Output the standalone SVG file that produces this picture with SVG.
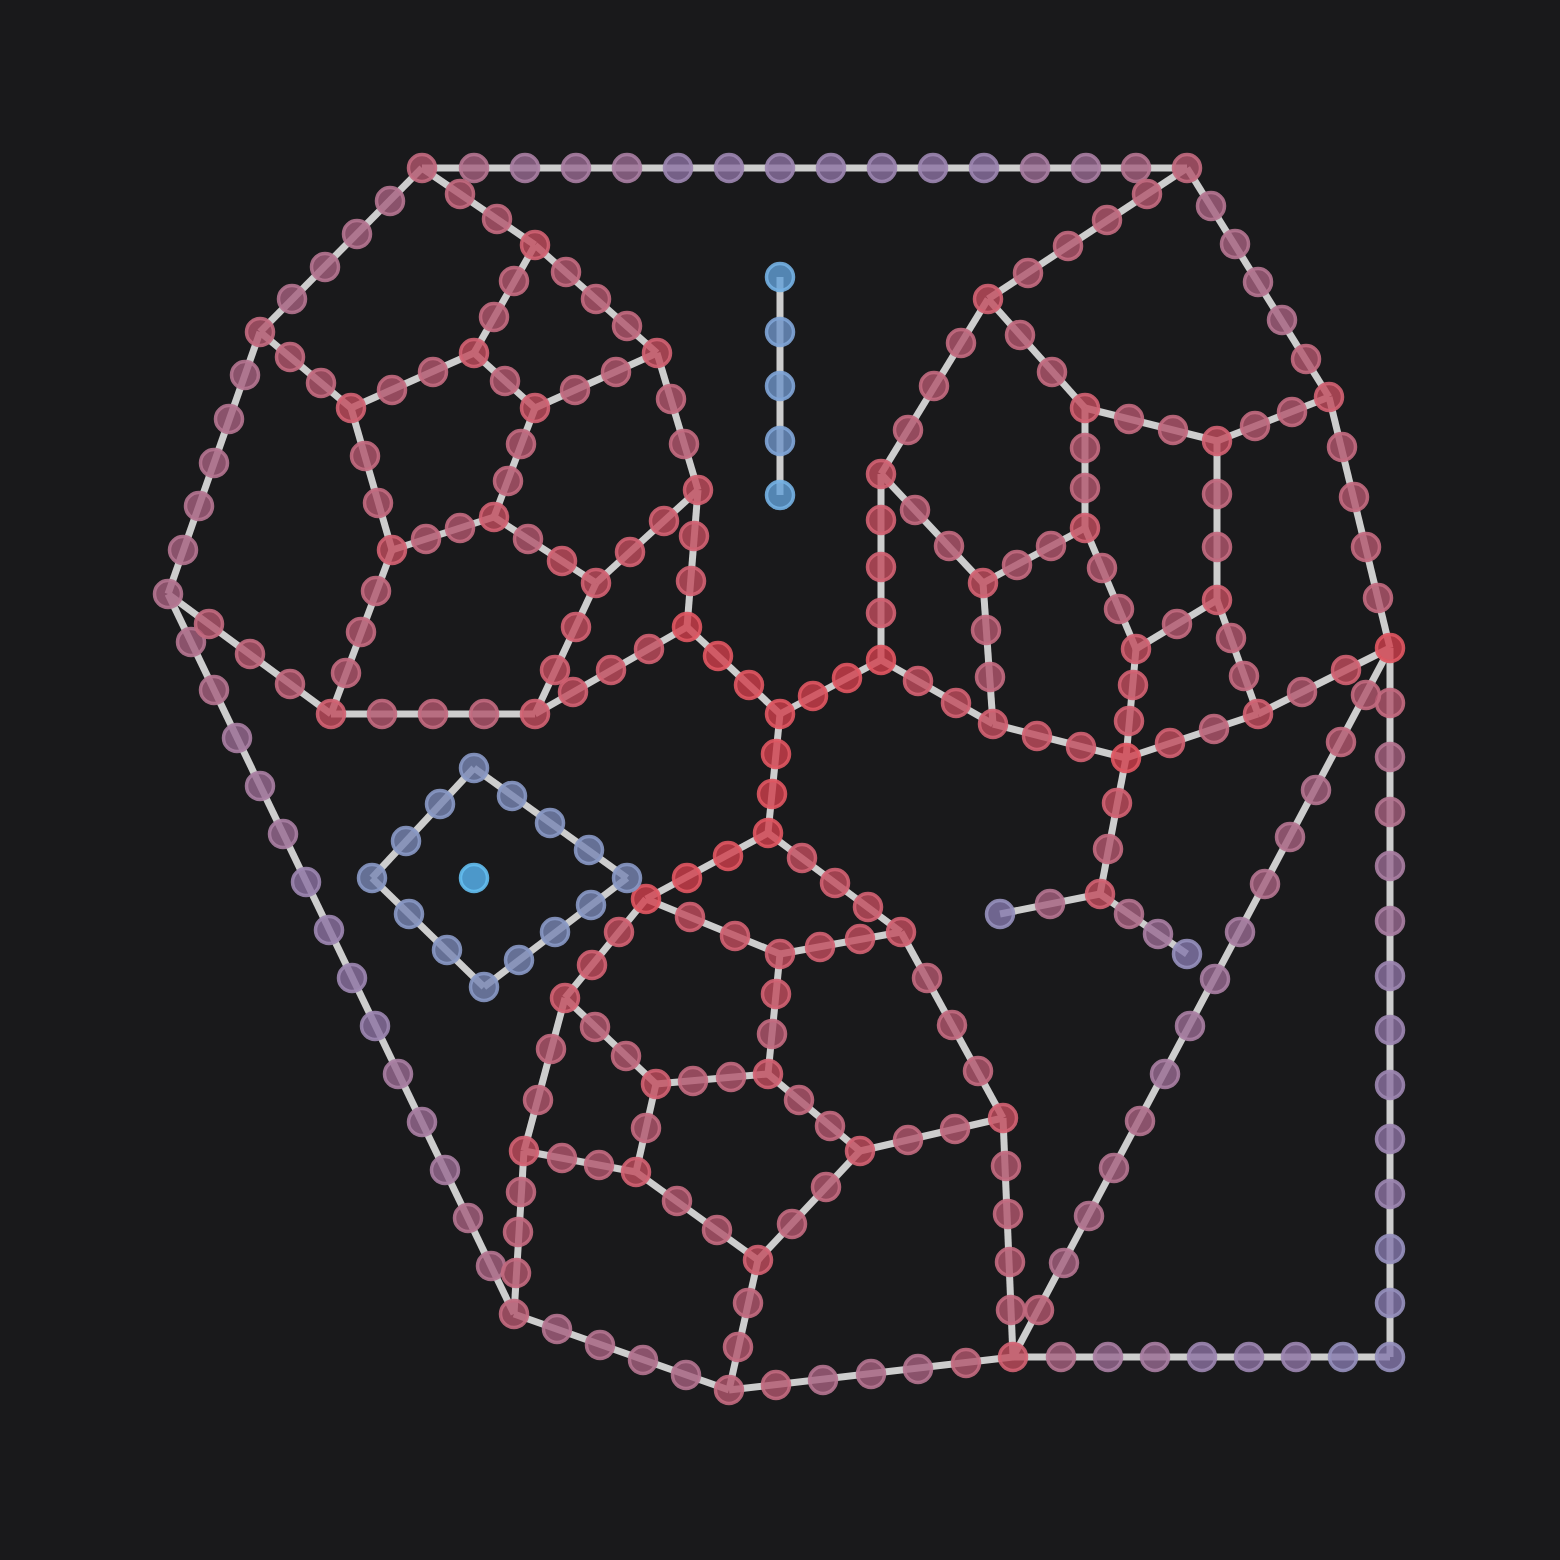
<svg xmlns="http://www.w3.org/2000/svg" width="1560" height="1560" viewBox="0 0 1560 1560">
<style>
.e line{stroke:#cdcdcd;stroke-width:7;stroke-linecap:butt}
.n circle{r:13.5;stroke-width:3.5;fill-opacity:.8;stroke-opacity:.9}
.c0 circle{fill:#d13f4c;stroke:#de5762}
.c1 circle{fill:#c24c5e;stroke:#d06272}
.c2 circle{fill:#b3566e;stroke:#c26a80}
.c3 circle{fill:#a66080;stroke:#b47490}
.c4 circle{fill:#986a92;stroke:#a87ea2}
.c5 circle{fill:#8c72a2;stroke:#9c86b0}
.c6 circle{fill:#8478ac;stroke:#9690bc}
.b1 circle{fill:#7886b4;stroke:#8898c4}
.b2 circle{fill:#6e94c8;stroke:#80a4d6}
.b3 circle{fill:#62a0d8;stroke:#74b0e2}
.b4 circle{fill:#52a6de;stroke:#64beef;fill-opacity:.9}
</style>
<rect width="1560" height="1560" fill="#19191b"/>
<g id="connectors" class="e">
<line x1="422" y1="168" x2="1187" y2="168"/>
<line x1="422" y1="168" x2="260" y2="332"/>
<line x1="260" y1="332" x2="168" y2="594"/>
<line x1="168" y1="594" x2="514" y2="1314"/>
<line x1="514" y1="1314" x2="729" y2="1390"/>
<line x1="729" y1="1390" x2="1013" y2="1357"/>
<line x1="1013" y1="1357" x2="1390" y2="1357"/>
<line x1="1390" y1="1357" x2="1390" y2="648"/>
<line x1="1390" y1="648" x2="1013" y2="1357"/>
<line x1="1187" y1="168" x2="1329" y2="397"/>
<line x1="1329" y1="397" x2="1390" y2="648"/>
<line x1="168" y1="594" x2="331" y2="714"/>
<line x1="422" y1="168" x2="535" y2="245"/>
<line x1="1187" y1="168" x2="988" y2="299"/>
<line x1="260" y1="332" x2="351" y2="408"/>
<line x1="1390" y1="648" x2="1258" y2="714"/>
<line x1="1258" y1="714" x2="1126" y2="758"/>
<line x1="1258" y1="714" x2="1217" y2="600"/>
<line x1="1217" y1="600" x2="1217" y2="441"/>
<line x1="1217" y1="441" x2="1329" y2="397"/>
<line x1="1217" y1="441" x2="1085" y2="408"/>
<line x1="1085" y1="408" x2="988" y2="299"/>
<line x1="988" y1="299" x2="881" y2="474"/>
<line x1="881" y1="474" x2="881" y2="660"/>
<line x1="881" y1="474" x2="983" y2="583"/>
<line x1="983" y1="583" x2="1085" y2="528"/>
<line x1="1085" y1="528" x2="1085" y2="408"/>
<line x1="1085" y1="528" x2="1136" y2="649"/>
<line x1="1136" y1="649" x2="1217" y2="600"/>
<line x1="1136" y1="649" x2="1126" y2="758"/>
<line x1="983" y1="583" x2="993" y2="724"/>
<line x1="993" y1="724" x2="881" y2="660"/>
<line x1="993" y1="724" x2="1126" y2="758"/>
<line x1="1126" y1="758" x2="1100" y2="894"/>
<line x1="1100" y1="894" x2="1000" y2="914"/>
<line x1="1100" y1="894" x2="1187" y2="954"/>
<line x1="881" y1="660" x2="780" y2="714"/>
<line x1="780" y1="714" x2="687" y2="627"/>
<line x1="780" y1="714" x2="768" y2="833"/>
<line x1="687" y1="627" x2="698" y2="490"/>
<line x1="687" y1="627" x2="535" y2="714"/>
<line x1="698" y1="490" x2="657" y2="353"/>
<line x1="698" y1="490" x2="596" y2="583"/>
<line x1="657" y1="353" x2="535" y2="245"/>
<line x1="657" y1="353" x2="535" y2="408"/>
<line x1="535" y1="245" x2="474" y2="353"/>
<line x1="474" y1="353" x2="351" y2="408"/>
<line x1="474" y1="353" x2="535" y2="408"/>
<line x1="535" y1="408" x2="494" y2="517"/>
<line x1="494" y1="517" x2="392" y2="550"/>
<line x1="494" y1="517" x2="596" y2="583"/>
<line x1="596" y1="583" x2="535" y2="714"/>
<line x1="535" y1="714" x2="331" y2="714"/>
<line x1="331" y1="714" x2="392" y2="550"/>
<line x1="392" y1="550" x2="351" y2="408"/>
<line x1="768" y1="833" x2="646" y2="899"/>
<line x1="768" y1="833" x2="901" y2="932"/>
<line x1="646" y1="899" x2="780" y2="954"/>
<line x1="780" y1="954" x2="901" y2="932"/>
<line x1="646" y1="899" x2="565" y2="998"/>
<line x1="901" y1="932" x2="1003" y2="1118"/>
<line x1="780" y1="954" x2="768" y2="1074"/>
<line x1="565" y1="998" x2="656" y2="1084"/>
<line x1="768" y1="1074" x2="656" y2="1084"/>
<line x1="768" y1="1074" x2="860" y2="1151"/>
<line x1="860" y1="1151" x2="1003" y2="1118"/>
<line x1="1003" y1="1118" x2="1013" y2="1357"/>
<line x1="565" y1="998" x2="524" y2="1151"/>
<line x1="524" y1="1151" x2="636" y2="1172"/>
<line x1="656" y1="1084" x2="636" y2="1172"/>
<line x1="636" y1="1172" x2="758" y2="1260"/>
<line x1="860" y1="1151" x2="758" y2="1260"/>
<line x1="758" y1="1260" x2="729" y2="1390"/>
<line x1="524" y1="1151" x2="514" y2="1314"/>
<line x1="474" y1="768" x2="627" y2="878"/>
<line x1="474" y1="768" x2="372" y2="878"/>
<line x1="372" y1="878" x2="484" y2="987"/>
<line x1="484" y1="987" x2="627" y2="878"/>
<line x1="780" y1="277" x2="780" y2="495"/>
</g>
<g id="nodes">
<g id="j1" class="n c2"><circle cx="422" cy="168"/></g>
<g id="j2" class="n c2"><circle cx="1187" cy="168"/></g>
<g id="j3" class="n c2"><circle cx="260" cy="332"/></g>
<g id="j4" class="n c3"><circle cx="168" cy="594"/></g>
<g id="j5" class="n c2"><circle cx="514" cy="1314"/></g>
<g id="j6" class="n c2"><circle cx="729" cy="1390"/></g>
<g id="j7" class="n c1"><circle cx="1013" cy="1357"/></g>
<g id="j8" class="n c6"><circle cx="1390" cy="1357"/></g>
<g id="j9" class="n c0"><circle cx="1390" cy="648"/></g>
<g id="j10" class="n c1"><circle cx="1329" cy="397"/></g>
<g id="j11" class="n c1"><circle cx="988" cy="299"/></g>
<g id="j12" class="n c1"><circle cx="1085" cy="408"/></g>
<g id="j13" class="n c1"><circle cx="1217" cy="441"/></g>
<g id="j14" class="n c1"><circle cx="1217" cy="600"/></g>
<g id="j15" class="n c1"><circle cx="1258" cy="714"/></g>
<g id="j16" class="n c0"><circle cx="1126" cy="758"/></g>
<g id="j17" class="n c1"><circle cx="1136" cy="649"/></g>
<g id="j18" class="n c1"><circle cx="1085" cy="528"/></g>
<g id="j19" class="n c1"><circle cx="983" cy="583"/></g>
<g id="j20" class="n c1"><circle cx="881" cy="474"/></g>
<g id="j21" class="n c0"><circle cx="881" cy="660"/></g>
<g id="j22" class="n c1"><circle cx="993" cy="724"/></g>
<g id="j23" class="n c1"><circle cx="1100" cy="894"/></g>
<g id="j24" class="n c6"><circle cx="1000" cy="914"/></g>
<g id="j25" class="n c6"><circle cx="1187" cy="954"/></g>
<g id="j26" class="n c0"><circle cx="780" cy="714"/></g>
<g id="j27" class="n c0"><circle cx="687" cy="627"/></g>
<g id="j28" class="n c1"><circle cx="698" cy="490"/></g>
<g id="j29" class="n c1"><circle cx="657" cy="353"/></g>
<g id="j30" class="n c1"><circle cx="535" cy="245"/></g>
<g id="j31" class="n c1"><circle cx="474" cy="353"/></g>
<g id="j32" class="n c1"><circle cx="535" cy="408"/></g>
<g id="j33" class="n c1"><circle cx="351" cy="408"/></g>
<g id="j34" class="n c1"><circle cx="494" cy="517"/></g>
<g id="j35" class="n c1"><circle cx="392" cy="550"/></g>
<g id="j36" class="n c1"><circle cx="596" cy="583"/></g>
<g id="j37" class="n c1"><circle cx="535" cy="714"/></g>
<g id="j38" class="n c1"><circle cx="331" cy="714"/></g>
<g id="j39" class="n c0"><circle cx="768" cy="833"/></g>
<g id="j40" class="n c0"><circle cx="646" cy="899"/></g>
<g id="j41" class="n c1"><circle cx="901" cy="932"/></g>
<g id="j42" class="n c1"><circle cx="780" cy="954"/></g>
<g id="j43" class="n c1"><circle cx="565" cy="998"/></g>
<g id="j44" class="n c1"><circle cx="1003" cy="1118"/></g>
<g id="j45" class="n c1"><circle cx="768" cy="1074"/></g>
<g id="j46" class="n c1"><circle cx="656" cy="1084"/></g>
<g id="j47" class="n c1"><circle cx="860" cy="1151"/></g>
<g id="j48" class="n c1"><circle cx="524" cy="1151"/></g>
<g id="j49" class="n c1"><circle cx="636" cy="1172"/></g>
<g id="j50" class="n c1"><circle cx="758" cy="1260"/></g>
<g id="t1" class="n c3"><circle cx="474" cy="168"/></g>
<g id="t2" class="n c4"><circle cx="525" cy="168"/></g>
<g id="t3" class="n c4"><circle cx="576" cy="168"/></g>
<g id="t4" class="n c4"><circle cx="627" cy="168"/></g>
<g id="t5" class="n c5"><circle cx="678" cy="168"/></g>
<g id="t6" class="n c5"><circle cx="729" cy="168"/></g>
<g id="t7" class="n c5"><circle cx="780" cy="168"/></g>
<g id="t8" class="n c5"><circle cx="831" cy="168"/></g>
<g id="t9" class="n c5"><circle cx="882" cy="168"/></g>
<g id="t10" class="n c5"><circle cx="933" cy="168"/></g>
<g id="t11" class="n c5"><circle cx="984" cy="168"/></g>
<g id="t12" class="n c4"><circle cx="1035" cy="168"/></g>
<g id="t13" class="n c4"><circle cx="1086" cy="168"/></g>
<g id="t14" class="n c3"><circle cx="1136" cy="168"/></g>
<g id="ul1" class="n c3"><circle cx="390" cy="201"/></g>
<g id="ul2" class="n c3"><circle cx="357" cy="234"/></g>
<g id="ul3" class="n c3"><circle cx="325" cy="267"/></g>
<g id="ul4" class="n c3"><circle cx="292" cy="299"/></g>
<g id="l1" class="n c3"><circle cx="245" cy="375"/></g>
<g id="l2" class="n c3"><circle cx="229" cy="419"/></g>
<g id="l3" class="n c3"><circle cx="214" cy="463"/></g>
<g id="l4" class="n c3"><circle cx="199" cy="506"/></g>
<g id="l5" class="n c3"><circle cx="183" cy="550"/></g>
<g id="ll1" class="n c3"><circle cx="191" cy="642"/></g>
<g id="ll2" class="n c3"><circle cx="214" cy="690"/></g>
<g id="ll3" class="n c4"><circle cx="237" cy="738"/></g>
<g id="ll4" class="n c4"><circle cx="260" cy="786"/></g>
<g id="ll5" class="n c4"><circle cx="283" cy="834"/></g>
<g id="ll6" class="n c5"><circle cx="306" cy="882"/></g>
<g id="ll7" class="n c5"><circle cx="329" cy="930"/></g>
<g id="ll8" class="n c5"><circle cx="352" cy="978"/></g>
<g id="ll9" class="n c5"><circle cx="375" cy="1026"/></g>
<g id="ll10" class="n c4"><circle cx="398" cy="1074"/></g>
<g id="ll11" class="n c4"><circle cx="422" cy="1122"/></g>
<g id="ll12" class="n c4"><circle cx="445" cy="1170"/></g>
<g id="ll13" class="n c3"><circle cx="468" cy="1218"/></g>
<g id="ll14" class="n c3"><circle cx="491" cy="1266"/></g>
<g id="b1" class="n c3"><circle cx="557" cy="1329"/></g>
<g id="b2" class="n c3"><circle cx="600" cy="1345"/></g>
<g id="b3" class="n c3"><circle cx="643" cy="1360"/></g>
<g id="b4" class="n c3"><circle cx="686" cy="1375"/></g>
<g id="b5" class="n c2"><circle cx="776" cy="1385"/></g>
<g id="b6" class="n c3"><circle cx="823" cy="1380"/></g>
<g id="b7" class="n c3"><circle cx="871" cy="1374"/></g>
<g id="b8" class="n c3"><circle cx="918" cy="1369"/></g>
<g id="b9" class="n c2"><circle cx="966" cy="1363"/></g>
<g id="br1" class="n c3"><circle cx="1061" cy="1357"/></g>
<g id="br2" class="n c4"><circle cx="1108" cy="1357"/></g>
<g id="br3" class="n c4"><circle cx="1155" cy="1357"/></g>
<g id="br4" class="n c5"><circle cx="1202" cy="1357"/></g>
<g id="br5" class="n c5"><circle cx="1249" cy="1357"/></g>
<g id="br6" class="n c5"><circle cx="1296" cy="1357"/></g>
<g id="br7" class="n c6"><circle cx="1343" cy="1357"/></g>
<g id="rc1" class="n c2"><circle cx="1390" cy="703"/></g>
<g id="rc2" class="n c3"><circle cx="1390" cy="757"/></g>
<g id="rc3" class="n c3"><circle cx="1390" cy="812"/></g>
<g id="rc4" class="n c4"><circle cx="1390" cy="866"/></g>
<g id="rc5" class="n c4"><circle cx="1390" cy="921"/></g>
<g id="rc6" class="n c5"><circle cx="1390" cy="976"/></g>
<g id="rc7" class="n c5"><circle cx="1390" cy="1030"/></g>
<g id="rc8" class="n c5"><circle cx="1390" cy="1085"/></g>
<g id="rc9" class="n c5"><circle cx="1390" cy="1139"/></g>
<g id="rc10" class="n c5"><circle cx="1390" cy="1194"/></g>
<g id="rc11" class="n c6"><circle cx="1390" cy="1249"/></g>
<g id="rc12" class="n c6"><circle cx="1390" cy="1303"/></g>
<g id="d1" class="n c2"><circle cx="1366" cy="695"/></g>
<g id="d2" class="n c2"><circle cx="1341" cy="742"/></g>
<g id="d3" class="n c3"><circle cx="1316" cy="790"/></g>
<g id="d4" class="n c3"><circle cx="1290" cy="837"/></g>
<g id="d5" class="n c3"><circle cx="1265" cy="884"/></g>
<g id="d6" class="n c4"><circle cx="1240" cy="932"/></g>
<g id="d7" class="n c4"><circle cx="1215" cy="979"/></g>
<g id="d8" class="n c4"><circle cx="1190" cy="1026"/></g>
<g id="d9" class="n c4"><circle cx="1165" cy="1074"/></g>
<g id="d10" class="n c3"><circle cx="1140" cy="1121"/></g>
<g id="d11" class="n c3"><circle cx="1114" cy="1168"/></g>
<g id="d12" class="n c3"><circle cx="1089" cy="1216"/></g>
<g id="d13" class="n c3"><circle cx="1064" cy="1263"/></g>
<g id="d14" class="n c2"><circle cx="1039" cy="1310"/></g>
<g id="ur1" class="n c3"><circle cx="1211" cy="206"/></g>
<g id="ur2" class="n c3"><circle cx="1235" cy="244"/></g>
<g id="ur3" class="n c3"><circle cx="1258" cy="282"/></g>
<g id="ur4" class="n c3"><circle cx="1282" cy="320"/></g>
<g id="ur5" class="n c2"><circle cx="1306" cy="359"/></g>
<g id="r1" class="n c2"><circle cx="1342" cy="447"/></g>
<g id="r2" class="n c2"><circle cx="1354" cy="497"/></g>
<g id="r3" class="n c2"><circle cx="1366" cy="547"/></g>
<g id="r4" class="n c2"><circle cx="1378" cy="598"/></g>
<g id="i1" class="n c2"><circle cx="209" cy="624"/></g>
<g id="i2" class="n c2"><circle cx="250" cy="654"/></g>
<g id="i3" class="n c2"><circle cx="290" cy="684"/></g>
<g id="i4" class="n c2"><circle cx="460" cy="194"/></g>
<g id="i5" class="n c2"><circle cx="497" cy="219"/></g>
<g id="i6" class="n c2"><circle cx="1147" cy="194"/></g>
<g id="i7" class="n c2"><circle cx="1107" cy="220"/></g>
<g id="i8" class="n c2"><circle cx="1068" cy="246"/></g>
<g id="i9" class="n c2"><circle cx="1028" cy="273"/></g>
<g id="i10" class="n c2"><circle cx="290" cy="357"/></g>
<g id="i11" class="n c2"><circle cx="321" cy="383"/></g>
<g id="i12" class="n c1"><circle cx="1346" cy="670"/></g>
<g id="i13" class="n c2"><circle cx="1302" cy="692"/></g>
<g id="i14" class="n c2"><circle cx="1214" cy="729"/></g>
<g id="i15" class="n c1"><circle cx="1170" cy="743"/></g>
<g id="i16" class="n c2"><circle cx="1244" cy="676"/></g>
<g id="i17" class="n c2"><circle cx="1231" cy="638"/></g>
<g id="i18" class="n c2"><circle cx="1217" cy="547"/></g>
<g id="i19" class="n c2"><circle cx="1217" cy="494"/></g>
<g id="i20" class="n c2"><circle cx="1255" cy="426"/></g>
<g id="i21" class="n c2"><circle cx="1292" cy="412"/></g>
<g id="i22" class="n c2"><circle cx="1129" cy="419"/></g>
<g id="i23" class="n c2"><circle cx="1173" cy="430"/></g>
<g id="i24" class="n c2"><circle cx="1052" cy="372"/></g>
<g id="i25" class="n c2"><circle cx="1020" cy="335"/></g>
<g id="i26" class="n c2"><circle cx="961" cy="343"/></g>
<g id="i27" class="n c2"><circle cx="934" cy="386"/></g>
<g id="i28" class="n c2"><circle cx="908" cy="430"/></g>
<g id="i29" class="n c1"><circle cx="881" cy="520"/></g>
<g id="i30" class="n c1"><circle cx="881" cy="567"/></g>
<g id="i31" class="n c1"><circle cx="881" cy="613"/></g>
<g id="i32" class="n c2"><circle cx="915" cy="510"/></g>
<g id="i33" class="n c2"><circle cx="949" cy="546"/></g>
<g id="i34" class="n c2"><circle cx="1017" cy="565"/></g>
<g id="i35" class="n c2"><circle cx="1051" cy="546"/></g>
<g id="i36" class="n c2"><circle cx="1085" cy="488"/></g>
<g id="i37" class="n c2"><circle cx="1085" cy="448"/></g>
<g id="i38" class="n c2"><circle cx="1102" cy="568"/></g>
<g id="i39" class="n c2"><circle cx="1119" cy="609"/></g>
<g id="i40" class="n c2"><circle cx="1177" cy="624"/></g>
<g id="i41" class="n c1"><circle cx="1133" cy="685"/></g>
<g id="i42" class="n c1"><circle cx="1129" cy="721"/></g>
<g id="i43" class="n c2"><circle cx="986" cy="630"/></g>
<g id="i44" class="n c2"><circle cx="990" cy="677"/></g>
<g id="i45" class="n c1"><circle cx="956" cy="703"/></g>
<g id="i46" class="n c1"><circle cx="918" cy="681"/></g>
<g id="i47" class="n c1"><circle cx="1037" cy="736"/></g>
<g id="i48" class="n c1"><circle cx="1081" cy="747"/></g>
<g id="i49" class="n c1"><circle cx="1117" cy="803"/></g>
<g id="i50" class="n c2"><circle cx="1108" cy="849"/></g>
<g id="i51" class="n c3"><circle cx="1050" cy="904"/></g>
<g id="i52" class="n c3"><circle cx="1129" cy="914"/></g>
<g id="i53" class="n c4"><circle cx="1158" cy="934"/></g>
<g id="m1" class="n c0"><circle cx="847" cy="678"/></g>
<g id="m2" class="n c0"><circle cx="813" cy="696"/></g>
<g id="m3" class="n c0"><circle cx="718" cy="656"/></g>
<g id="m4" class="n c0"><circle cx="749" cy="685"/></g>
<g id="m5" class="n c0"><circle cx="776" cy="754"/></g>
<g id="m6" class="n c0"><circle cx="772" cy="794"/></g>
<g id="m7" class="n c1"><circle cx="691" cy="581"/></g>
<g id="m8" class="n c1"><circle cx="694" cy="536"/></g>
<g id="m9" class="n c1"><circle cx="649" cy="649"/></g>
<g id="m10" class="n c1"><circle cx="611" cy="670"/></g>
<g id="m11" class="n c1"><circle cx="573" cy="692"/></g>
<g id="m12" class="n c2"><circle cx="684" cy="444"/></g>
<g id="m13" class="n c2"><circle cx="671" cy="399"/></g>
<g id="m14" class="n c1"><circle cx="664" cy="521"/></g>
<g id="m15" class="n c1"><circle cx="630" cy="552"/></g>
<g id="m16" class="n c2"><circle cx="627" cy="326"/></g>
<g id="m17" class="n c2"><circle cx="596" cy="299"/></g>
<g id="m18" class="n c2"><circle cx="566" cy="272"/></g>
<g id="m19" class="n c2"><circle cx="616" cy="372"/></g>
<g id="m20" class="n c2"><circle cx="575" cy="390"/></g>
<g id="m21" class="n c2"><circle cx="514" cy="281"/></g>
<g id="m22" class="n c2"><circle cx="494" cy="317"/></g>
<g id="m23" class="n c2"><circle cx="433" cy="372"/></g>
<g id="m24" class="n c2"><circle cx="392" cy="390"/></g>
<g id="m25" class="n c2"><circle cx="505" cy="381"/></g>
<g id="m26" class="n c2"><circle cx="521" cy="444"/></g>
<g id="m27" class="n c2"><circle cx="508" cy="481"/></g>
<g id="m28" class="n c2"><circle cx="460" cy="528"/></g>
<g id="m29" class="n c2"><circle cx="426" cy="539"/></g>
<g id="m30" class="n c2"><circle cx="528" cy="539"/></g>
<g id="m31" class="n c1"><circle cx="562" cy="561"/></g>
<g id="m32" class="n c1"><circle cx="576" cy="627"/></g>
<g id="m33" class="n c1"><circle cx="555" cy="670"/></g>
<g id="m34" class="n c2"><circle cx="484" cy="714"/></g>
<g id="m35" class="n c2"><circle cx="433" cy="714"/></g>
<g id="m36" class="n c2"><circle cx="382" cy="714"/></g>
<g id="m37" class="n c2"><circle cx="346" cy="673"/></g>
<g id="m38" class="n c2"><circle cx="361" cy="632"/></g>
<g id="m39" class="n c2"><circle cx="376" cy="591"/></g>
<g id="m40" class="n c2"><circle cx="378" cy="503"/></g>
<g id="m41" class="n c2"><circle cx="365" cy="456"/></g>
<g id="q1" class="n c0"><circle cx="728" cy="856"/></g>
<g id="q2" class="n c0"><circle cx="687" cy="878"/></g>
<g id="q3" class="n c1"><circle cx="802" cy="858"/></g>
<g id="q4" class="n c1"><circle cx="835" cy="883"/></g>
<g id="q5" class="n c1"><circle cx="868" cy="907"/></g>
<g id="q6" class="n c1"><circle cx="690" cy="917"/></g>
<g id="q7" class="n c1"><circle cx="735" cy="936"/></g>
<g id="q8" class="n c1"><circle cx="820" cy="947"/></g>
<g id="q9" class="n c1"><circle cx="860" cy="939"/></g>
<g id="q10" class="n c1"><circle cx="619" cy="932"/></g>
<g id="q11" class="n c1"><circle cx="592" cy="965"/></g>
<g id="q12" class="n c2"><circle cx="927" cy="978"/></g>
<g id="q13" class="n c2"><circle cx="952" cy="1025"/></g>
<g id="q14" class="n c2"><circle cx="978" cy="1071"/></g>
<g id="q15" class="n c1"><circle cx="776" cy="994"/></g>
<g id="q16" class="n c2"><circle cx="772" cy="1034"/></g>
<g id="q17" class="n c2"><circle cx="595" cy="1027"/></g>
<g id="q18" class="n c2"><circle cx="626" cy="1056"/></g>
<g id="q19" class="n c2"><circle cx="731" cy="1077"/></g>
<g id="q20" class="n c2"><circle cx="693" cy="1081"/></g>
<g id="q21" class="n c2"><circle cx="799" cy="1100"/></g>
<g id="q22" class="n c2"><circle cx="830" cy="1126"/></g>
<g id="q23" class="n c2"><circle cx="908" cy="1140"/></g>
<g id="q24" class="n c2"><circle cx="955" cy="1129"/></g>
<g id="q25" class="n c2"><circle cx="1006" cy="1166"/></g>
<g id="q26" class="n c2"><circle cx="1008" cy="1214"/></g>
<g id="q27" class="n c2"><circle cx="1010" cy="1262"/></g>
<g id="q28" class="n c2"><circle cx="1011" cy="1310"/></g>
<g id="q29" class="n c2"><circle cx="551" cy="1049"/></g>
<g id="q30" class="n c2"><circle cx="538" cy="1100"/></g>
<g id="q31" class="n c2"><circle cx="562" cy="1158"/></g>
<g id="q32" class="n c2"><circle cx="599" cy="1165"/></g>
<g id="q33" class="n c2"><circle cx="646" cy="1128"/></g>
<g id="q34" class="n c2"><circle cx="677" cy="1201"/></g>
<g id="q35" class="n c2"><circle cx="717" cy="1230"/></g>
<g id="q36" class="n c2"><circle cx="826" cy="1187"/></g>
<g id="q37" class="n c2"><circle cx="792" cy="1224"/></g>
<g id="q38" class="n c2"><circle cx="748" cy="1303"/></g>
<g id="q39" class="n c2"><circle cx="738" cy="1347"/></g>
<g id="q40" class="n c2"><circle cx="521" cy="1192"/></g>
<g id="q41" class="n c2"><circle cx="518" cy="1232"/></g>
<g id="q42" class="n c2"><circle cx="516" cy="1273"/></g>
<g id="dm1" class="n b1"><circle cx="474" cy="768"/></g>
<g id="dm2" class="n b1"><circle cx="627" cy="878"/></g>
<g id="dm3" class="n b1"><circle cx="484" cy="987"/></g>
<g id="dm4" class="n b1"><circle cx="372" cy="878"/></g>
<g id="dm5" class="n b1"><circle cx="512" cy="796"/></g>
<g id="dm6" class="n b1"><circle cx="550" cy="823"/></g>
<g id="dm7" class="n b1"><circle cx="589" cy="850"/></g>
<g id="dm8" class="n b1"><circle cx="440" cy="804"/></g>
<g id="dm9" class="n b1"><circle cx="406" cy="841"/></g>
<g id="dm10" class="n b1"><circle cx="409" cy="914"/></g>
<g id="dm11" class="n b1"><circle cx="447" cy="950"/></g>
<g id="dm12" class="n b1"><circle cx="519" cy="960"/></g>
<g id="dm13" class="n b1"><circle cx="555" cy="932"/></g>
<g id="dm14" class="n b1"><circle cx="591" cy="905"/></g>
<g id="p1" class="n b3"><circle cx="780" cy="277"/></g>
<g id="p2" class="n b2"><circle cx="780" cy="332"/></g>
<g id="p3" class="n b2"><circle cx="780" cy="386"/></g>
<g id="p4" class="n b2"><circle cx="780" cy="441"/></g>
<g id="p5" class="n b3"><circle cx="780" cy="495"/></g>
<g id="iso" class="n b4"><circle cx="474" cy="878"/></g>
</g>
</svg>
